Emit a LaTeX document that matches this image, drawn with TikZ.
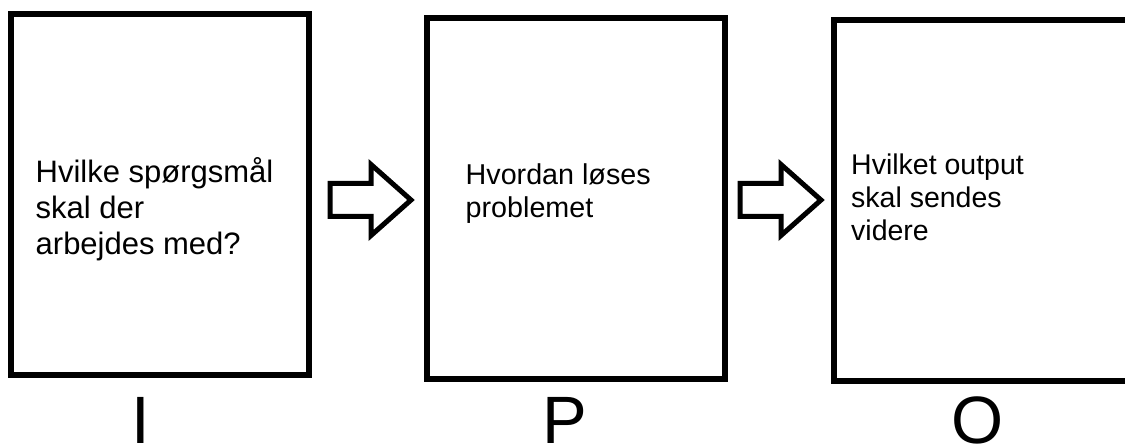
\documentclass[tikz,border=0pt]{standalone}
\usepackage{fontspec}
\setmainfont{Liberation Sans}

\tikzset{
	boks/.style={draw, line width=6pt, minimum width=298pt, minimum height=361pt, inner sep=0pt, outer sep=0pt, anchor=north west},
	pil/.style={draw, line width=5pt, line join=miter},
	tekst/.style={anchor=base west, align=left, inner sep=0pt},
	bogstav/.style={anchor=base, inner sep=0pt, font=\fontsize{67}{67}\selectfont}
}

\begin{document}
\begin{tikzpicture}[x=1pt, y=-1pt]
		\clip (0,0) rectangle (1125,446);
		\fill[white] (0,0) rectangle (1125,446);
		% de tre kasser
		\node[boks] (input) at (11,14) {};
		\node[boks] (proces) at (427,18) {};
		\node[boks] (output) at (834,20) {};
		\path
		(35.5,255) node[tekst, font=\fontsize{31}{36}\selectfont] (tinput) {Hvilke spørgsmål\\skal der\\arbejdes med?}
		(465.5,218) node[tekst, font=\fontsize{28.7}{33}\selectfont] (tproces) {Hvordan løses\\problemet}
		(851,241) node[tekst, font=\fontsize{28.5}{33}\selectfont] (toutput) {Hvilket output\\skal sendes\\videre}
		;
		% blokpile
		\coordinate (pil1) at (330,200);
		\coordinate (pil2) at (740,200);
		\foreach \p in {pil1,pil2}
			\draw[pil] (\p) ++(0,-16.5) -- ++(41,0) -- ++(0,-19) -- ++(40,35.5)
				-- ++(-40,35.5) -- ++(0,-19) -- ++(-41,0) -- cycle;
		\path
		(140.5,443) node[bogstav] (i) {I}
		(565,443) node[bogstav] (p) {P}
		(977.5,443) node[bogstav] (o) {O}
		;
	\end{tikzpicture}
\end{document}
